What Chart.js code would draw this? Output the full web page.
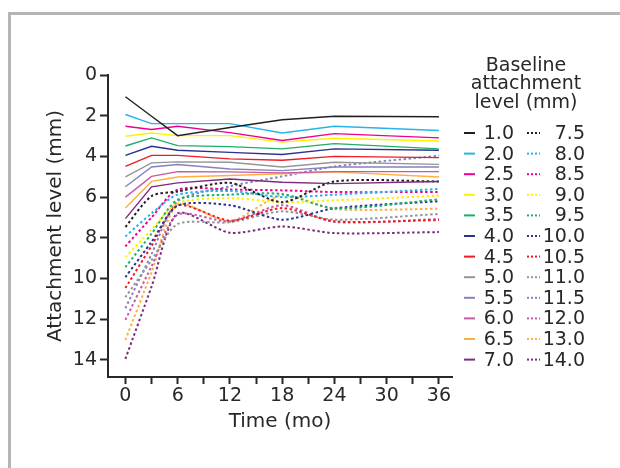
<!DOCTYPE html>
<html>
<head>
<meta charset="utf-8">
<script src="https://cdn.jsdelivr.net/npm/chart.js@4.4.1/dist/chart.umd.min.js"></script>
<style>
  html, body { margin: 0; padding: 0; background: #fff; }
  #wrap { position: relative; width: 620px; height: 468px; overflow: hidden; background: #fff; }
  #frame { position: absolute; left: 8px; top: 12px; width: 700px; height: 600px;
           border-top: 3px solid #b3b5b8; border-left: 3px solid #b3b5b8; }
  #chart { position: absolute; left: 0; top: 0; }
</style>
</head>
<body>
<div id="wrap">
  <div id="frame"></div>
  <canvas id="chart" width="620" height="468"></canvas>
</div>
<script>
// time points (months)
const months = [0, 3, 6, 12, 18, 24, 36];
const xTicks = [0, 3, 6, 9, 12, 15, 18, 21, 24, 27, 30, 33, 36];
const yTicks = [0, 2, 4, 6, 8, 10, 12, 14];

// baseline attachment level groups
const solidLevels = ["1.0", "2.0", "2.5", "3.0", "3.5", "4.0", "4.5", "5.0", "5.5", "6.0", "6.5", "7.0"];
const dottedLevels = ["7.5", "8.0", "8.5", "9.0", "9.5", "10.0", "10.5", "11.0", "11.5", "12.0", "13.0", "14.0"];
const colors = ["#231f20", "#27b4e9", "#ec008c", "#fff200", "#1fad6b", "#2e3192",
                "#ed1c24", "#939598", "#8781bd", "#c45aa5", "#fbb040", "#7b2a80"];

// mean attachment level (mm) per baseline group
const mm1_0 = [1.07, 2.03, 2.98, 2.58, 2.2, 2.03, 2.05];
const mm2_0 = [1.94, 2.39, 2.39, 2.39, 2.85, 2.52, 2.73];
const mm2_5 = [2.52, 2.68, 2.52, 2.83, 3.22, 2.88, 3.09];
const mm3_0 = [3.01, 2.85, 2.98, 2.98, 3.3, 3.11, 3.24];
const mm3_5 = [3.49, 3.09, 3.47, 3.52, 3.63, 3.37, 3.63];
const mm4_0 = [3.95, 3.5, 3.7, 3.8, 3.91, 3.63, 3.7];
const mm4_5 = [4.49, 3.95, 3.95, 4.12, 4.19, 4.0, 4.06];
const mm5_0 = [5.01, 4.32, 4.27, 4.29, 4.52, 4.29, 4.39];
const mm5_5 = [5.49, 4.52, 4.4, 4.62, 4.7, 4.52, 4.52];
const mm6_0 = [6.0, 4.98, 4.75, 4.76, 4.81, 4.75, 4.75];
const mm6_5 = [6.54, 5.23, 5.01, 4.94, 4.85, 4.76, 5.01];
const mm7_0 = [7.06, 5.5, 5.3, 5.11, 5.27, 5.34, 5.23];

const mm7_5 = [7.47, 5.95, 5.72, 5.3, 6.25, 5.23, 5.23];
const mm8_0 = [7.93, 6.8, 5.88, 5.7, 6.0, 5.88, 5.6];
const mm8_5 = [8.42, 7.0, 5.63, 5.63, 5.67, 5.75, 5.75];
const mm9_0 = [8.95, 7.6, 6.29, 6.05, 6.25, 6.16, 5.93];
const mm9_5 = [9.44, 7.8, 6.13, 5.88, 5.85, 6.55, 6.11];
const mm10_0 = [9.93, 8.2, 6.42, 6.4, 7.11, 6.55, 6.2];
const mm10_5 = [10.47, 8.4, 6.4, 7.16, 6.54, 7.19, 7.13];
const mm11_0 = [10.92, 9.1, 7.32, 7.24, 6.7, 7.11, 6.83];
const mm11_5 = [11.46, 8.8, 6.2, 5.47, 4.98, 4.5, 3.96];
const mm12_0 = [12.03, 9.4, 6.86, 7.2, 6.4, 7.22, 7.08];
const mm13_0 = [13.02, 9.7, 6.37, 7.19, 5.9, 6.59, 6.57];
const mm14_0 = [13.95, 10.4, 6.8, 7.75, 7.44, 7.77, 7.72];

const solidSeries = [mm1_0, mm2_0, mm2_5, mm3_0, mm3_5, mm4_0, mm4_5, mm5_0, mm5_5, mm6_0, mm6_5, mm7_0];
const dottedSeries = [mm7_5, mm8_0, mm8_5, mm9_0, mm9_5, mm10_0, mm10_5, mm11_0, mm11_5, mm12_0, mm13_0, mm14_0];

const FONT = '"DejaVu Sans", "Noto Sans", sans-serif';
const INK = "#2b2728";

const toPoints = vals => vals.map((v, i) => ({ x: months[i], y: v }));

const datasets = [];
solidSeries.forEach((vals, i) => {
  datasets.push({
    label: solidLevels[i], data: toPoints(vals), borderColor: colors[i],
    borderWidth: 1.4, pointRadius: 0, tension: 0, fill: false, dotted: false
  });
});
dottedSeries.forEach((vals, i) => {
  datasets.push({
    label: dottedLevels[i], data: toPoints(vals), borderColor: colors[i],
    borderWidth: 2, borderDash: [2.5, 2.5], pointRadius: 0, tension: 0.25, fill: false, dotted: true
  });
});

// legend on the right, two columns
const sideLegend = {
  id: "sideLegend",
  afterDraw(chart) {
    const ctx = chart.ctx;
    ctx.save();
    ctx.fillStyle = INK;
    ctx.font = "19px " + FONT;
    ctx.textAlign = "center";
    ctx.textBaseline = "middle";
    ["Baseline", "attachment", "level (mm)"].forEach((t, i) => ctx.fillText(t, 526, 66 + i * 18.5));

    ctx.font = "19px " + FONT;
    ctx.textAlign = "right";
    const sets = chart.data.datasets;
    sets.forEach((ds, k) => {
      const col = ds.dotted ? 1 : 0;
      const row = ds.dotted ? k - 12 : k;
      const y = 133 + row * 20.6;
      ctx.strokeStyle = ds.borderColor;
      ctx.lineWidth = 2;
      ctx.setLineDash(ds.dotted ? [2, 2] : []);
      ctx.beginPath();
      if (col === 0) { ctx.moveTo(464, y); ctx.lineTo(475, y); }
      else { ctx.moveTo(527, y); ctx.lineTo(540, y); }
      ctx.stroke();
      ctx.fillStyle = INK;
      ctx.fillText(ds.label, col === 0 ? 514 : 585, y + 1);
    });
    ctx.restore();
  }
};

new Chart(document.getElementById("chart").getContext("2d"), {
  type: "line",
  data: { datasets: datasets },
  options: {
    responsive: false,
    animation: false,
    layout: { padding: { left: 38, right: 168, top: 75, bottom: 31 } },
    plugins: { legend: { display: false }, tooltip: { enabled: false } },
    scales: {
      x: {
        type: "linear", min: -2, max: 37.5,
        afterBuildTicks: s => { s.ticks = xTicks.map(v => ({ value: v })); },
        afterFit: s => { s.height = 60; },
        ticks: {
          color: INK, font: { family: FONT, size: 19 }, padding: 1, maxRotation: 0, autoSkip: false,
          callback: v => (v % 6 === 0 ? String(v) : "")
        },
        grid: { drawOnChartArea: false, drawTicks: true, tickLength: 7, tickWidth: 2, tickColor: INK },
        border: { display: true, color: INK, width: 2 },
        title: { display: true, text: "Time (mo)", color: INK, font: { family: FONT, size: 20 }, padding: { top: 0, bottom: 3 } }
      },
      y: {
        type: "linear", reverse: true, min: 0, max: 14.84,
        afterBuildTicks: s => { s.ticks = yTicks.map(v => ({ value: v })); },
        afterFit: s => { s.width = 70; },
        ticks: { color: INK, font: { family: FONT, size: 19 }, padding: 3, autoSkip: false },
        grid: { drawOnChartArea: false, drawTicks: true, tickLength: 8, tickWidth: 2, tickColor: INK },
        border: { display: true, color: INK, width: 2 },
        title: { display: true, text: "Attachment level (mm)", color: INK, font: { family: FONT, size: 20 }, padding: { top: 6, bottom: 0 } }
      }
    }
  },
  plugins: [sideLegend]
});
</script>
</body>
</html>
